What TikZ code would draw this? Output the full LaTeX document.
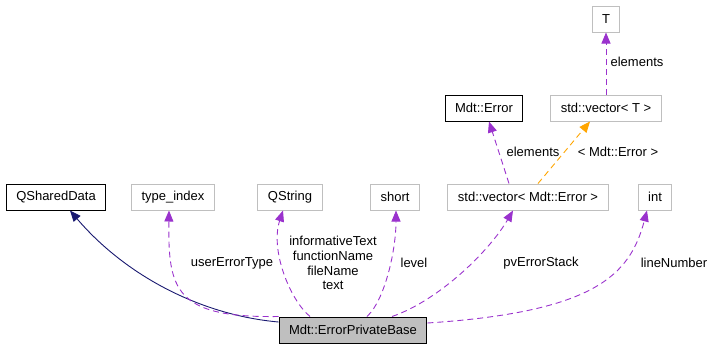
\documentclass[tikz,border=0pt]{standalone}
\usepackage{fontspec}
\setmainfont{Liberation Sans}
\usetikzlibrary{arrows.meta}

\definecolor{edgepurple}{HTML}{9A32CD}
\definecolor{edgeorange}{HTML}{FFA500}
\definecolor{edgenavy}{HTML}{191970}
\definecolor{boxgray}{HTML}{BFBFBF}

\begin{document}
\begin{tikzpicture}[x=1pt,y=-1pt,
    font=\fontsize{13}{14.7}\selectfont,
    cls/.style={draw=black,line width=1pt,inner xsep=10pt,minimum height=26pt,inner ysep=0pt},
    extcls/.style={draw=boxgray,line width=1pt,inner xsep=10pt,minimum height=26pt,inner ysep=0pt},
    basecls/.style={cls,fill=boxgray},
    member/.style={edgepurple,dash pattern=on 6pt off 4pt,line width=0.9pt,-{Triangle[length=11pt,width=9pt]}},
    tmpl/.style={member,draw=edgeorange,-{Triangle[length=11pt,width=9pt,fill=edgeorange]}},
    inherit/.style={edgenavy,line width=0.9pt,-{Triangle[length=11pt,width=9pt]}},
    lbl/.style={inner sep=0pt,align=center}]
%	\draw[help lines,step=50] (0,0) grid (713,349);
\useasboundingbox (0,0) rectangle (713,349);

% classes
\node[basecls] (base) at (353,330) {Mdt::ErrorPrivateBase};
\node[cls] (qshared) at (56,197) {QSharedData};
\node[extcls] (typeindex) at (173,197) {type\_index};
\node[extcls] (qstring) at (290,197) {QString};
\node[extcls] (short) at (395,197) {short};
\node[extcls] (vecerr) at (528,197) {std::vector< Mdt::Error >};
\node[extcls] (int) at (655,197) {int};
\node[cls] (mdterr) at (484,108) {Mdt::Error};
\node[extcls] (vect) at (606,108) {std::vector< T >};
\node[extcls] (T) at (606,19) {T};

% edges into the base class
\draw[inherit] ([yshift=8pt]base.west) .. controls (200,315) and (125,275) .. ([xshift=14pt]qshared.south);
\draw[member] (base.north west) .. controls (175,318) and (168,290) .. ([xshift=-4pt]typeindex.south);
\draw[member] ([xshift=-43pt]base.north) .. controls (290,300) and (270,250) .. ([xshift=-7pt]qstring.south);
\draw[member] ([xshift=14pt]base.north) .. controls (385,300) and (396,250) .. ([xshift=1pt]short.south);
\draw[member] ([xshift=39pt]base.north) .. controls (440,300) and (490,250) .. ([xshift=-15pt]vecerr.south);
\draw[member] ([yshift=7pt]base.east) .. controls (595,312) and (630,275) .. ([xshift=-8pt]int.south);

% template edges
\draw[member] ([xshift=-19pt]vecerr.north) -- ([xshift=5pt]mdterr.south);
\draw[tmpl] ([xshift=10pt]vecerr.north) -- ([xshift=-16pt]vect.south);
\draw[member] (vect.north) -- (T.south);

% labels
\node[lbl] (l1) at (232,263) {userErrorType};
\node[lbl] (l2) at (333,263) {informativeText\\functionName\\fileName\\text};
\node[lbl] (l3) at (414,263) {level};
\node[lbl] (l4) at (541,263) {pvErrorStack};
\node[lbl] (l5) at (674,263) {lineNumber};
\node[lbl] (l6) at (533,152) {elements};
\node[lbl] (l7) at (618,152) {< Mdt::Error >};
\node[lbl] (l8) at (637,62) {elements};
\end{tikzpicture}
\end{document}
